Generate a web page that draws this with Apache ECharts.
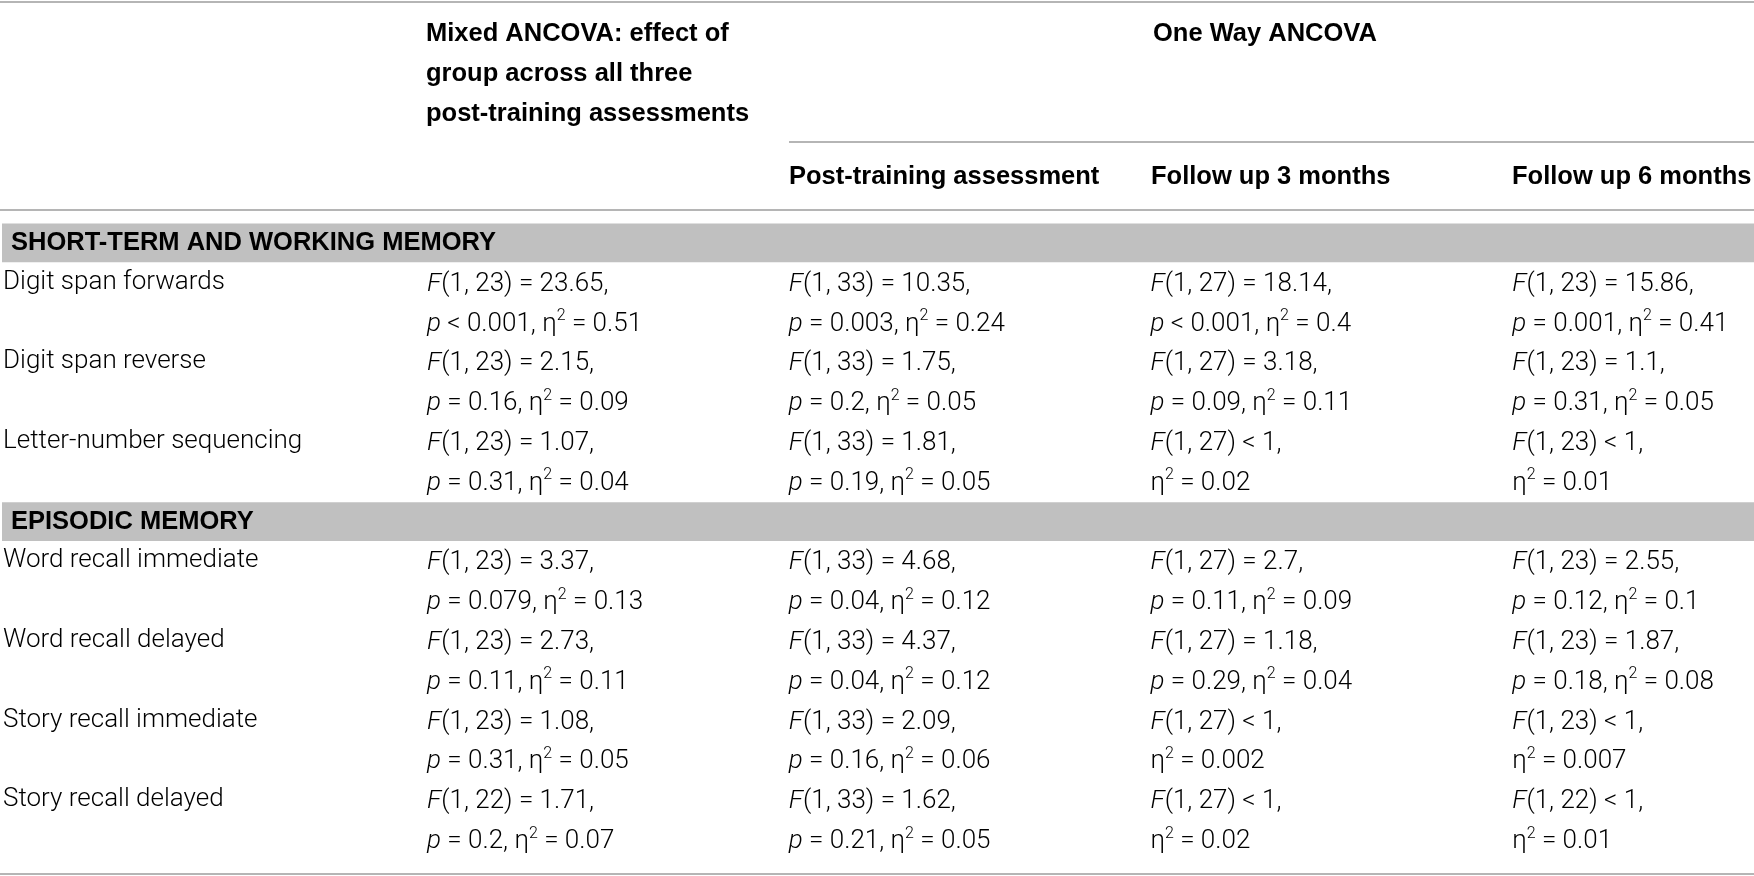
<!DOCTYPE html>
<html><head><meta charset="utf-8">
<script src="https://cdn.jsdelivr.net/npm/echarts@6/dist/echarts.min.js"></script>
<style>html,body{margin:0;padding:0;background:#fff}#c{width:1754px;height:876px}</style>
</head><body><div id="c"></div>
<script>
// ---------- data ----------
const columnKeys = ['mixed', 'post', 'fu3', 'fu6'];
const headerMixed = ['Mixed ANCOVA: effect of', 'group across all three', 'post-training assessments'];
const headerOneWay = 'One Way ANCOVA';
const subHeaders = ['Post-training assessment', 'Follow up 3 months', 'Follow up 6 months'];
const sectionNames = ['SHORT-TERM AND WORKING MEMORY', 'EPISODIC MEMORY'];
const sectionSizes = [3, 4];
const rowNames = ['Digit span forwards', 'Digit span reverse', 'Letter-number sequencing',
  'Word recall immediate', 'Word recall delayed', 'Story recall immediate', 'Story recall delayed'];

const dfMixed = ['1, 23', '1, 23', '1, 23', '1, 23', '1, 23', '1, 23', '1, 22'];
const fMixed = [23.65, 2.15, 1.07, 3.37, 2.73, 1.08, 1.71];
const pMixed = ['<0.001', 0.16, 0.31, 0.079, 0.11, 0.31, 0.2];
const etaMixed = [0.51, 0.09, 0.04, 0.13, 0.11, 0.05, 0.07];

const dfPost = ['1, 33', '1, 33', '1, 33', '1, 33', '1, 33', '1, 33', '1, 33'];
const fPost = [10.35, 1.75, 1.81, 4.68, 4.37, 2.09, 1.62];
const pPost = [0.003, 0.2, 0.19, 0.04, 0.04, 0.16, 0.21];
const etaPost = [0.24, 0.05, 0.05, 0.12, 0.12, 0.06, 0.05];

const dfFu3 = ['1, 27', '1, 27', '1, 27', '1, 27', '1, 27', '1, 27', '1, 27'];
const fFu3 = [18.14, 3.18, '<1', 2.7, 1.18, '<1', '<1'];
const pFu3 = ['<0.001', 0.09, null, 0.11, 0.29, null, null];
const etaFu3 = [0.4, 0.11, 0.02, 0.09, 0.04, '0.002', 0.02];

const dfFu6 = ['1, 23', '1, 23', '1, 23', '1, 23', '1, 23', '1, 23', '1, 22'];
const fFu6 = [15.86, 1.1, '<1', 2.55, 1.87, '<1', '<1'];
const pFu6 = [0.001, 0.31, null, 0.12, 0.18, null, null];
const etaFu6 = [0.41, 0.05, 0.01, 0.1, 0.08, '0.007', 0.01];

// ---------- build ----------
const cols = [
  [dfMixed, fMixed, pMixed, etaMixed],
  [dfPost, fPost, pPost, etaPost],
  [dfFu3, fFu3, pFu3, etaFu3],
  [dfFu6, fFu6, pFu6, etaFu6]
];
const SP = ' ';
function rel(v) {
  const s = String(v);
  return s.charAt(0) === '<' ? SP + '<' + SP + s.slice(1) : SP + '=' + SP + s;
}
const lineKeys = [];
const lineLabels = [];
const bandLines = [];
const cellData = [];
const cellTexts = [];
let r = 0;
sectionNames.forEach((sec, s) => {
  bandLines.push(lineKeys.length);
  lineKeys.push('sec' + s); lineLabels.push({ text: sec, band: true });
  for (let k = 0; k < sectionSizes[s]; k++, r++) {
    const a = lineKeys.length;
    lineKeys.push('row' + r + 'a'); lineLabels.push({ text: rowNames[r] });
    lineKeys.push('row' + r + 'b'); lineLabels.push({ text: '' });
    cols.forEach((c, ci) => {
      const [df, f, p, eta] = c;
      cellData.push([ci, a]);
      cellTexts.push('{it|F}(' + df[r] + ')' + rel(f[r]) + ',');
      cellData.push([ci, a + 1]);
      const pPart = p[r] === null ? '' : '{it|p}' + rel(p[r]) + ', ';
      cellTexts.push(pPart + 'η{sup|2}' + rel(eta[r]));
    });
  }
});

const BODY = 'Roboto, "Liberation Sans", sans-serif';
const HEAD = '"Liberation Sans", Arial, sans-serif';
const FS = 26;
const HFS = 25.5;
const RULE = '#b5b5b5';
const GRID_LEFT = 426, COL_W = 362, CHART_W = 1754;
const rich = {
  it: { fontStyle: 'italic', fontSize: FS, fontFamily: BODY, fontWeight: 300, fill: '#000', lineHeight: 32 },
  sup: { fontSize: 16, fontFamily: BODY, fontWeight: 300, fill: '#000', verticalAlign: 'top', lineHeight: 16 }
};
const headStyle = { fontFamily: HEAD, fontWeight: 'bold', fontSize: HFS, fill: '#000', verticalAlign: 'middle' };

const chart = echarts.init(document.getElementById('c'), null, { renderer: 'canvas' });
chart.setOption({
  animation: false,
  backgroundColor: '#fff',
  grid: { left: GRID_LEFT, top: 222.5, right: 0, height: 637 },
  xAxis: { type: 'value', min: 0, max: (CHART_W - GRID_LEFT) / COL_W, show: false },
  yAxis: {
    type: 'category', data: lineKeys, inverse: true,
    axisLine: { show: false }, axisTick: { show: false }, splitLine: { show: false },
    axisLabel: {
      align: 'left', margin: GRID_LEFT - 2, fontFamily: BODY, fontWeight: 300, fontSize: FS, color: '#000',
      formatter: (v, i) => lineLabels[i].band ? '' : lineLabels[i].text
    }
  },
  series: [
    {
      type: 'custom', z: 1, silent: true,
      data: bandLines.map(i => [0, i]),
      encode: { x: 0, y: 1 },
      renderItem: (params, api) => {
        const pt = api.coord([0, api.value(1)]);
        const h = api.size([0, 1])[1];
        const idx = api.value(1);
        return {
          type: 'group', children: [
            { type: 'rect', shape: { x: 2, y: pt[1] - h / 2 + 1, width: api.getWidth(), height: h - 1 }, style: { fill: '#c0c0c0' } },
            { type: 'text', x: 11, y: pt[1] + 1, style: Object.assign({ text: lineLabels[idx].text, align: 'left' }, headStyle) }
          ]
        };
      }
    },
    {
      type: 'custom', z: 3, silent: true,
      data: cellData,
      encode: { x: 0, y: 1 },
      renderItem: (params, api) => {
        const pt = api.coord([api.value(0), api.value(1)]);
        return {
          type: 'text', x: pt[0], y: pt[1] + 2,
          style: {
            text: cellTexts[params.dataIndex], rich: rich,
            fontFamily: BODY, fontWeight: 300, fontSize: FS, fill: '#000',
            lineHeight: 32, align: 'left', verticalAlign: 'middle'
          }
        };
      }
    }
  ],
  graphic: [
    { type: 'line', shape: { x1: 0, y1: 2, x2: 1754, y2: 2 }, style: { stroke: RULE, lineWidth: 2 } },
    { type: 'line', shape: { x1: 789, y1: 142, x2: 1754, y2: 142 }, style: { stroke: RULE, lineWidth: 2 } },
    { type: 'line', shape: { x1: 0, y1: 210, x2: 1754, y2: 210 }, style: { stroke: RULE, lineWidth: 2 } },
    { type: 'line', shape: { x1: 0, y1: 874, x2: 1754, y2: 874 }, style: { stroke: RULE, lineWidth: 2 } },
    { type: 'text', x: 426, y: 74, style: Object.assign({ text: headerMixed.join('\n'), lineHeight: 40 }, headStyle) },
    { type: 'text', x: 1153, y: 34, style: Object.assign({ text: headerOneWay }, headStyle) },
    { type: 'text', x: 789, y: 177, style: Object.assign({ text: subHeaders[0] }, headStyle) },
    { type: 'text', x: 1151, y: 177, style: Object.assign({ text: subHeaders[1] }, headStyle) },
    { type: 'text', x: 1512, y: 177, style: Object.assign({ text: subHeaders[2] }, headStyle) }
  ]
});
</script>
</body></html>
